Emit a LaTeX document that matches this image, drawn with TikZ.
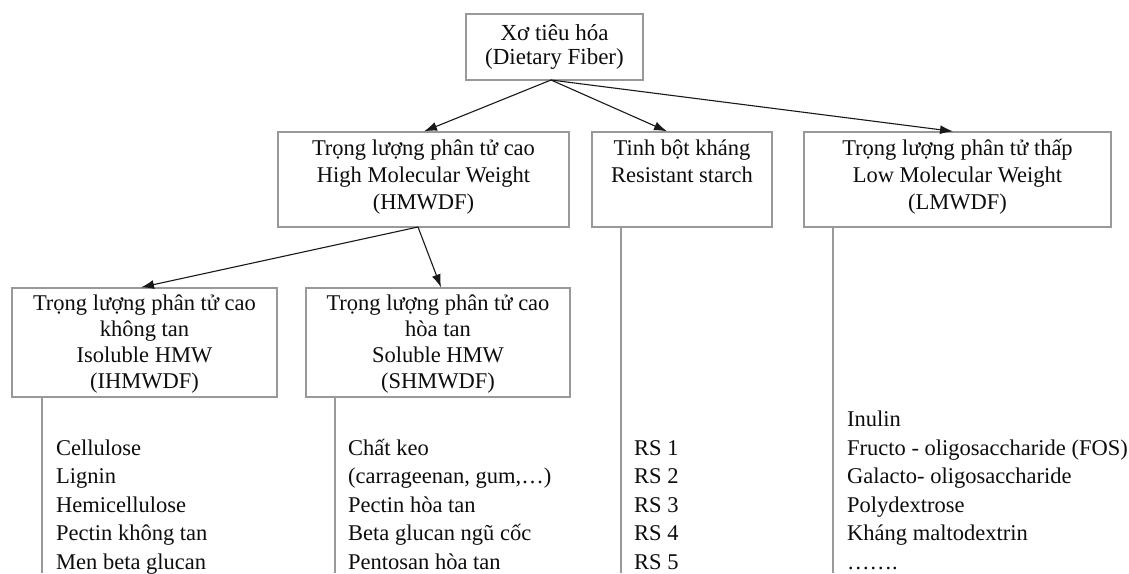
\documentclass[tikz,border=0pt]{standalone}
\usepackage{fontspec}
\setmainfont{Liberation Serif}
\usetikzlibrary{arrows.meta,calc}
\begin{document}
\begin{tikzpicture}[x=1pt,y=-1pt,
  box/.style={draw=black!40, line width=1.3pt, inner sep=0pt, fill=white},
  lbl/.style={anchor=north, align=center, font=\fontsize{22.5}{27}\selectfont, text=black!95, inner sep=0pt},
  lbls/.style={anchor=north, align=center, font=\fontsize{22.5}{26}\selectfont, text=black!95, inner sep=0pt},
  item/.style={anchor=base west, font=\fontsize{22.5}{27}\selectfont, text=black!95, inner sep=0pt},
  arr/.style={-{Latex[length=13pt,width=9pt]}, line width=1.1pt, black!90},
  vline/.style={draw=black!40, line width=1.2pt}]
\useasboundingbox[fill=white] (0,0) rectangle (1129,573);

% boxes
\node[box, minimum width=177pt, minimum height=66pt, align=center,
      font=\fontsize{23}{24}\selectfont, text=black!95] (top) at (554.5,47) {Xơ tiêu hóa\\(Dietary Fiber)};
\node[box, minimum width=291pt, minimum height=95pt] (hmw) at (423.5,179.5) {};
\node[box, minimum width=180pt, minimum height=95pt] (rs)  at (682,179.5) {};
\node[box, minimum width=307pt, minimum height=95pt] (lmw) at (957.5,179.5) {};
\node[box, minimum width=265pt, minimum height=109pt] (ihmw) at (144.5,342.5) {};
\node[box, minimum width=264pt, minimum height=109pt] (shmw) at (438,342.5) {};

% labels
\node[lbl] (hmwt) at ($(hmw.north)+(0,8)$) {Trọng lượng phân tử cao\\High Molecular Weight\\(HMWDF)};
\node[lbl] (rst)  at ($(rs.north)+(0,8)$) {Tinh bột kháng\\Resistant starch};
\node[lbl] (lmwt) at ($(lmw.north)+(0,8)$) {Trọng lượng phân tử thấp\\Low Molecular Weight\\(LMWDF)};
\node[lbls] (ihmwt) at ($(ihmw.north)+(0,7)$) {Trọng lượng phân tử cao\\không tan\\Isoluble HMW\\(IHMWDF)};
\node[lbls] (shmwt) at ($(shmw.north)+(0,7)$) {Trọng lượng phân tử cao\\hòa tan\\Soluble HMW\\(SHMWDF)};

% arrows
\coordinate (s0) at (551,80);
\coordinate (s1) at (418,227);
\draw[arr] (s0) -- (hmw.north -| 424,0);
\draw[arr] (s0) -- (rs.north -| 667,0);
\draw[arr] (s0) -- (lmw.north -| 953,0);
\draw[arr] (s1) -- (ihmw.north -| 141,0);
\draw[arr] (s1) -- (shmw.north -| 441,0);

% vertical lines
\coordinate (b1) at (42,573);
\coordinate (b2) at (335,573);
\coordinate (b3) at (621,573);
\coordinate (b4) at (833,573);
\draw[vline] (ihmw.south -| b1) -- (b1);
\draw[vline] (shmw.south -| b2) -- (b2);
\draw[vline] (rs.south -| b3) -- (b3);
\draw[vline] (lmw.south -| b4) -- (b4);

% lists
\foreach \t [count=\i from 0] in {Cellulose, Lignin, Hemicellulose, Pectin không tan, Men beta glucan}
  \node[item] at (56, 455+\i*28.5) {\t};
\foreach \t [count=\i from 0] in {Chất keo, {(carrageenan, gum,…)}, Pectin hòa tan, Beta glucan ngũ cốc, Pentosan hòa tan}
  \node[item] at (348, 455+\i*28.5) {\t};
\foreach \t [count=\i from 0] in {RS 1, RS 2, RS 3, RS 4, RS 5}
  \node[item] at (634, 455+\i*28.5) {\t};
\foreach \t [count=\i from 0] in {Inulin, Fructo - oligosaccharide (FOS), Galacto- oligosaccharide, Polydextrose, Kháng maltodextrin, …….}
  \node[item] at (847, 426.5+\i*28.5) {\t};
\end{tikzpicture}
\end{document}
